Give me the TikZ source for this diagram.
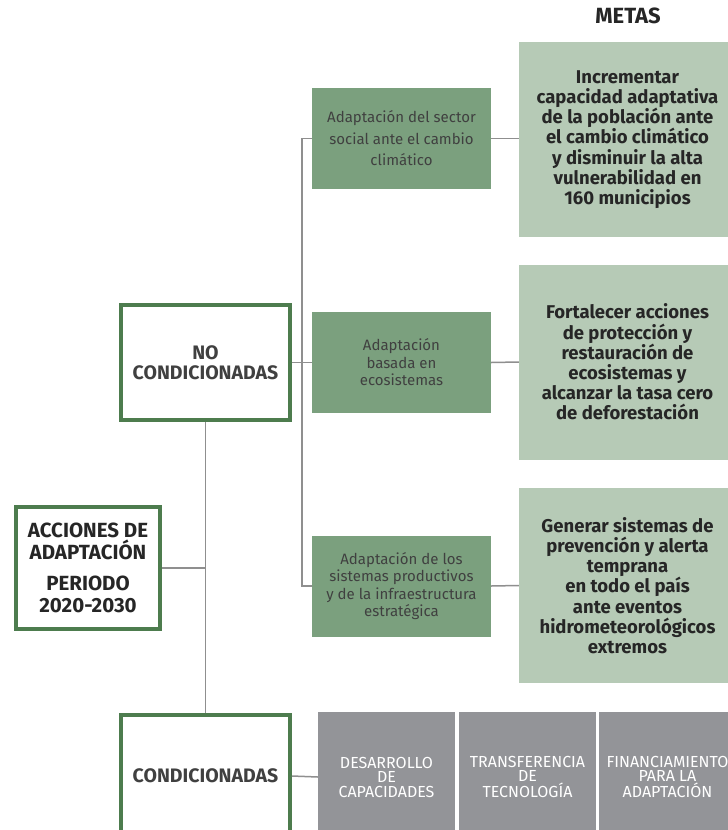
\documentclass[tikz,border=0pt]{standalone}
\usepackage{fontspec}
\setmainfont{Fira Sans}
\usetikzlibrary{positioning}
\definecolor{boxgreen}{HTML}{7BA07E}
\definecolor{metagreen}{HTML}{B6CAB6}
\definecolor{framegreen}{HTML}{4D7C4E}
\definecolor{linegray}{HTML}{8F8F8F}
\definecolor{boxgray}{HTML}{939498}
\definecolor{txtdark}{HTML}{262626}
\definecolor{txtgray}{HTML}{404040}

\begin{document}
\begin{tikzpicture}[x=1pt,y=-1pt,
    frame/.style={draw=framegreen,line width=4pt,fill=white,align=center,
      font=\fontsize{19.5}{20}\selectfont\bfseries,text=txtgray},
    action/.style={fill=boxgreen,minimum width=179pt,minimum height=101pt,align=center,
      font=\fontsize{15}{17.5}\selectfont,text=txtgray},
    goal/.style={fill=metagreen,minimum width=217pt,minimum height=195pt,align=center,
      font=\fontsize{18.5}{20.2}\selectfont\bfseries,text=txtdark},
    means/.style={fill=boxgray,minimum width=137pt,minimum height=130pt,align=center,
      font=\fontsize{16}{14.5}\selectfont,text=white},
    link/.style={draw=linegray,line width=1.5pt}]
  \clip (0,0) rectangle (728,830);
  \fill[white] (0,0) rectangle (728,830);

  % left column
  \node[frame,minimum width=144pt,minimum height=122pt,text=txtdark,
    font=\fontsize{20.5}{22}\selectfont\bfseries] (acc) at (88,568)
    {ACCIONES DE\\ADAPTACIÓN\\[9pt]PERIODO\\2020-2030};
  \node[frame,minimum width=169pt,minimum height=115pt] (nocond) at (205.5,362.5) {NO\\CONDICIONADAS};
  \node[frame,minimum width=169pt,minimum height=122pt] (cond) at (205.5,776) {CONDICIONADAS};

  % acciones no condicionadas
  \node[action,font=\fontsize{15}{21.5}\selectfont] (g1) at (401.5,138.5)
    {Adaptación del sector\\social ante el cambio\\climático};
  \node[action] (g2) at (401.5,362.5) {Adaptación\\basada en\\ecosistemas};
  \node[action] (g3) at (401.5,586) {Adaptación de los\\sistemas productivos\\y de la infraestructura\\estratégica};

  % metas
  \node[font=\fontsize{22}{22}\selectfont\bfseries,text=txtdark] (metas) at (628,16) {METAS};
  \node[goal] (m1) at (627.5,139.5)
    {Incrementar\\capacidad adaptativa\\de la población ante\\el cambio climático\\y disminuir la alta\\vulnerabilidad en\\160 municipios};
  \node[goal] (m2) at (627.5,362) {Fortalecer acciones\\de protección y\\restauración de\\ecosistemas y\\alcanzar la tasa cero\\de deforestación};
  \node[goal] (m3) at (627.5,585.5) {Generar sistemas de\\prevención y alerta\\temprana\\en todo el país\\ante eventos\\hidrometeorológicos\\extremos};

  % acciones condicionadas
  \node[means] (c1) at (386.5,777) {DESARROLLO\\DE\\CAPACIDADES};
  \node[means] (c2) at (527.5,777) {TRANSFERENCIA\\DE\\TECNOLOGÍA};
  \node[means] (c3) at (667.5,777) {FINANCIAMIENTO\\PARA LA\\ADAPTACIÓN};

  % connectors
  \coordinate (tA) at (302,138.5);
  \coordinate (tB) at (302,586);
  \draw[link] (g1.west) -- (tA) -- (tB) -- (g3.west);
  \draw[link] (nocond.east) -- (g2.west);
  \draw[link] (nocond.south) -- (cond.north);
  \draw[link] (acc.east) -- (acc.east -| nocond.south);
  \draw[link] (cond.east) -- (c1.west);
  \draw[link] (g1.east) -- (g1.east -| m1.west);
  \draw[link] (g2.east) -- (m2.west);
  \draw[link] (g3.east) -- (m3.west);
\end{tikzpicture}
\end{document}
